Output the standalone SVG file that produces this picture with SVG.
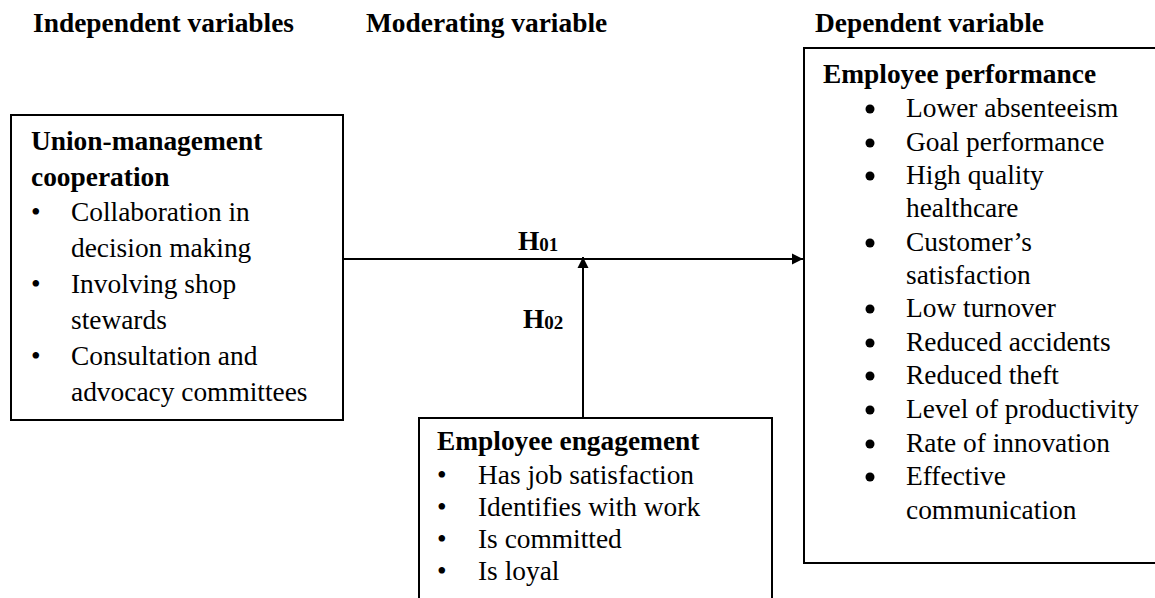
<svg xmlns="http://www.w3.org/2000/svg" width="1155" height="598" viewBox="0 0 1155 598">
  <style>
    text { font-family: "Liberation Serif", Tinos, "Times New Roman", "DejaVu Serif", serif; font-size: 27.4px; fill: #000; }
    .b { font-weight: bold; }
    .box { fill: none; stroke: #000; stroke-width: 2; }
    .conn { fill: none; stroke: #000; stroke-width: 2; }
    .dot { fill: #000; }
  </style>
  <defs>
    <marker id="arr" markerUnits="userSpaceOnUse" markerWidth="12" markerHeight="12" refX="11" refY="6" orient="auto">
      <path d="M0,0.5 L11,6 L0,11.5 z" fill="#000"/>
    </marker>
  </defs>

  <g id="headers">
    <text class="b" x="33" y="32">Independent variables</text>
    <text class="b" x="366" y="32">Moderating variable</text>
    <text class="b" x="815" y="32">Dependent variable</text>
  </g>

  <g id="node-union">
    <rect class="box" x="11" y="115" width="332" height="305"/>
    <text class="b" x="31" y="150">Union-management</text>
    <text class="b" x="31" y="186">cooperation</text>
    <text x="31" y="221">•</text>
    <text x="71" y="221">Collaboration in</text>
    <text x="71" y="257">decision making</text>
    <text x="31" y="293">•</text>
    <text x="71" y="293">Involving shop</text>
    <text x="71" y="329">stewards</text>
    <text x="31" y="365">•</text>
    <text x="71" y="365">Consultation and</text>
    <text x="71" y="401">advocacy committees</text>
  </g>

  <g id="node-engagement">
    <path class="box" d="M419,600 V418 H772 V600"/>
    <text class="b" x="437" y="450">Employee engagement</text>
    <text x="437" y="484">•</text>
    <text x="478" y="484">Has job satisfaction</text>
    <text x="437" y="516">•</text>
    <text x="478" y="516">Identifies with work</text>
    <text x="437" y="548">•</text>
    <text x="478" y="548">Is committed</text>
    <text x="437" y="580">•</text>
    <text x="478" y="580">Is loyal</text>
  </g>

  <g id="node-performance">
    <rect class="box" x="804" y="48" width="360" height="515"/>
    <text class="b" x="823" y="83">Employee performance</text>
    <circle class="dot" cx="870" cy="109" r="4.5"/>
    <text x="906" y="117">Lower absenteeism</text>
    <circle class="dot" cx="870" cy="143" r="4.5"/>
    <text x="906" y="151">Goal performance</text>
    <circle class="dot" cx="870" cy="176" r="4.5"/>
    <text x="906" y="184">High quality</text>
    <text x="906" y="217">healthcare</text>
    <circle class="dot" cx="870" cy="243" r="4.5"/>
    <text x="906" y="251">Customer’s</text>
    <text x="906" y="284">satisfaction</text>
    <circle class="dot" cx="870" cy="309" r="4.5"/>
    <text x="906" y="317">Low turnover</text>
    <circle class="dot" cx="870" cy="343" r="4.5"/>
    <text x="906" y="351">Reduced accidents</text>
    <circle class="dot" cx="870" cy="376" r="4.5"/>
    <text x="906" y="384">Reduced theft</text>
    <circle class="dot" cx="870" cy="410" r="4.5"/>
    <text x="906" y="418">Level of productivity</text>
    <circle class="dot" cx="870" cy="444" r="4.5"/>
    <text x="906" y="452">Rate of innovation</text>
    <circle class="dot" cx="870" cy="477" r="4.5"/>
    <text x="906" y="485">Effective</text>
    <text x="906" y="519">communication</text>
  </g>

  <g id="connectors">
    <line class="conn" x1="343" y1="259" x2="803" y2="259" marker-end="url(#arr)"/>
    <line class="conn" x1="583" y1="418" x2="583" y2="257" marker-end="url(#arr)"/>
    <text class="b" x="518" y="250">H<tspan font-size="19" dy="1">01</tspan></text>
    <text class="b" x="523" y="328">H<tspan font-size="19" dy="1">02</tspan></text>
  </g>
</svg>
